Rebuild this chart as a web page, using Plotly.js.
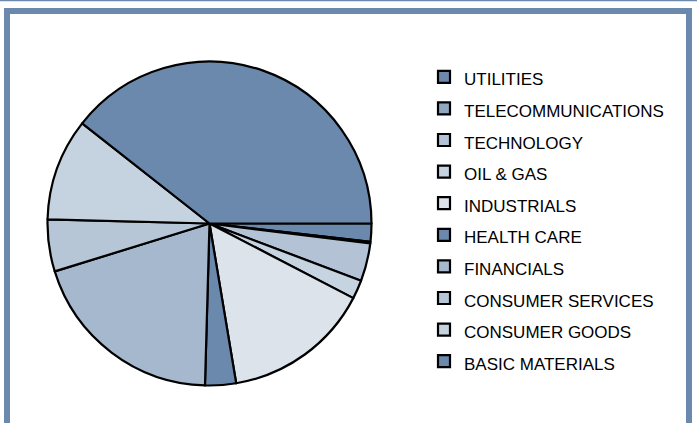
<!DOCTYPE html>
<html>
<head>
<meta charset="utf-8">
<script src="https://cdn.plot.ly/plotly-3.0.1.min.js"></script>
<style>
  html, body { margin: 0; padding: 0; background: #ffffff; }
  #chart { width: 697px; height: 423px; }
</style>
</head>
<body>
<div id="chart"></div>
<script>
// Sector names (legend order, first slice starts at 3 o'clock going clockwise)
const categories = ["UTILITIES", "TELECOMMUNICATIONS", "TECHNOLOGY", "OIL & GAS", "INDUSTRIALS",
                    "HEALTH CARE", "FINANCIALS", "CONSUMER SERVICES", "CONSUMER GOODS", "BASIC MATERIALS"];
// Share of portfolio, %
const values = [1.8, 0.17, 3.78, 1.87, 14.75, 3.08, 19.78, 5.19, 10.2, 39.4];
// Slice colours
const colors = ["#6A89AD", "#8FA7C3", "#B3C3D5", "#C6D3E0", "#DCE3EB",
                "#6A89AD", "#A5B8CE", "#B6C6D7", "#C5D3E0", "#6A89AD"];

const W = 697, H = 423;
const px = v => v / W;
const py = v => 1 - v / H;
const frame = "#6A89AD";

const trace = {
  type: "pie",
  labels: categories.map(c => '<span style="font-size:17px">' + c + '</span>'),
  values: values,
  sort: false,
  direction: "clockwise",
  rotation: 90,
  textinfo: "none",
  hoverinfo: "label+percent",
  marker: { colors: colors, line: { color: "#000000", width: 2.2 } },
  domain: { x: [px(47.5), px(371.5)], y: [py(385.5), py(61.5)] }
};

const layout = {
  width: W, height: H,
  margin: { l: 0, r: 0, t: 0, b: 0 },
  paper_bgcolor: "#ffffff",
  showlegend: true,
  legend: {
    x: px(424), y: py(56), xanchor: "left", yanchor: "top",
    font: { family: "Liberation Sans, Arial, sans-serif", size: 22, color: "#000000" },
    bgcolor: "rgba(0,0,0,0)", borderwidth: 0
  },
  shapes: [
    { type: "rect", xref: "paper", yref: "paper", x0: 0, x1: 1, y0: py(1.2), y1: py(0), fillcolor: frame, line: { width: 0 } },
    { type: "rect", xref: "paper", yref: "paper", x0: px(4), x1: px(692), y0: py(14), y1: py(8), fillcolor: frame, line: { width: 0 } },
    { type: "rect", xref: "paper", yref: "paper", x0: px(4), x1: px(10), y0: py(423), y1: py(8), fillcolor: frame, line: { width: 0 } },
    { type: "rect", xref: "paper", yref: "paper", x0: px(686), x1: px(692), y0: py(423), y1: py(8), fillcolor: frame, line: { width: 0 } }
  ]
};

Plotly.newPlot("chart", [trace], layout, { displayModeBar: false, staticPlot: true });
</script>
</body>
</html>
